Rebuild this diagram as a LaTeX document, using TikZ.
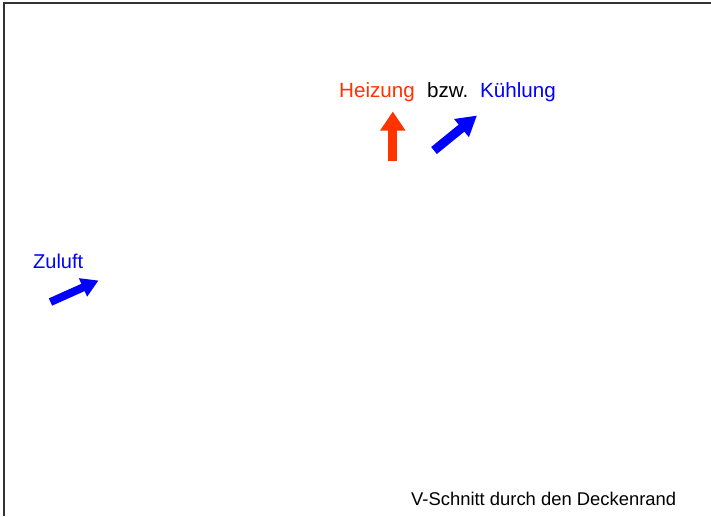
\documentclass[tikz,border=0pt]{standalone}
\usepackage{fontspec}
\setmainfont{Liberation Sans}
\usetikzlibrary{arrows.meta}
\definecolor{heat}{RGB}{255,51,0}
\definecolor{cool}{RGB}{0,0,255}
\definecolor{frame}{RGB}{50,50,50}
\begin{document}
\begin{tikzpicture}[x=1pt,y=-1pt,
  lbl/.style={anchor=base west, inner sep=0pt},
  headfont/.style={font=\fontsize{20.6}{24}\selectfont},
  heatlbl/.style={lbl, headfont, text=heat},
  coollbl/.style={lbl, headfont, text=cool},
  blockarrow/.style={line width=9pt, -{Triangle[length=19pt,width=24pt]}}
]
\useasboundingbox (0,0) rectangle (711,516);
% frame (left and top edges)
\draw[frame, line width=2pt] (3.5,516) -- (3.5,3.5) -- (711,3.5);
% labels
\node[heatlbl] (heiz) at (339,97.5) {Heizung};
\node[lbl, headfont] (bzw) at (427,97.5) {bzw.};
\node[coollbl] (kuehl) at (480,97.5) {Kühlung};
\node[lbl, text=cool, font=\fontsize{20}{24}\selectfont] (zuluft) at (33,268) {Zuluft};
\node[lbl, font=\fontsize{18.4}{22}\selectfont] (caption) at (411,505) {V-Schnitt durch den Deckenrand};
% arrows
\coordinate (heatTail) at (392.8,161);
\coordinate (heatTip) at (392.8,111.5);
\coordinate (coolTail) at (434,150.5);
\coordinate (coolTip) at (477,115.5);
\coordinate (airTail) at (50.5,302);
\coordinate (airTip) at (98.5,280.5);
\draw[blockarrow, heat] (heatTail) -- (heatTip);
\draw[blockarrow, cool, -{Triangle[length=20pt,width=22pt]}] (coolTail) -- (coolTip);
\draw[blockarrow, cool, line width=8pt, -{Triangle[length=17pt,width=19pt]}] (airTail) -- (airTip);
\end{tikzpicture}
\end{document}
